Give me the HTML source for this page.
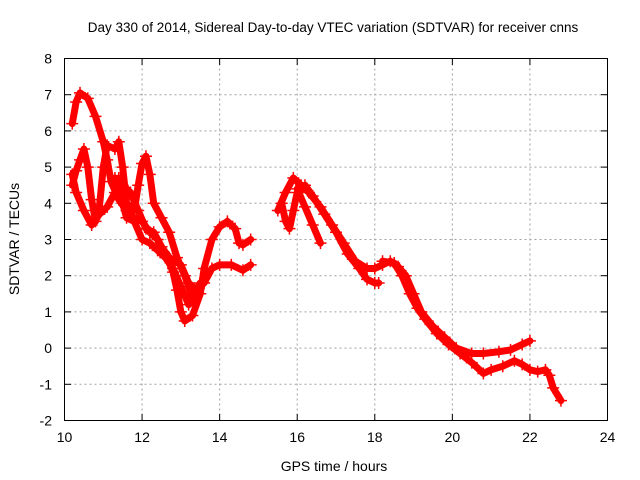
<!DOCTYPE html>
<html><head><meta charset="utf-8"><style>
body{margin:0;background:#fff}
svg{display:block;font-family:"Liberation Sans",sans-serif}
</style></head><body>
<svg id="c" width="640" height="480">
<text x="333" y="32" font-size="13.5" text-anchor="middle">Day 330 of 2014, Sidereal Day-to-day VTEC variation (SDTVAR) for receiver cnns</text>
<text x="334" y="471" font-size="14" text-anchor="middle">GPS time / hours</text>
<text x="19" y="239" font-size="14" text-anchor="middle" transform="rotate(-90 19 239)">SDTVAR / TECUs</text>
<g id="grid"></g><g id="ticks"></g><g id="series"></g>
<rect x="64.5" y="58.5" width="543" height="362" fill="none" stroke="#000"/>
</svg>
<script>
const xTicks=[10,12,14,16,18,20,22,24];
const yTicks=[-2,-1,0,1,2,3,4,5,6,7,8];
const traceA=[[10.2,6.2],[10.3,6.8],[10.4,7.05],[10.6,6.9],[10.8,6.4],[11.0,5.7],[11.1,5.2],[11.2,4.6],[11.4,4.1],[11.6,3.8],[11.8,3.6],[12.0,3.5],[12.2,3.2],[12.4,3.0],[12.6,2.6],[12.8,2.1],[12.9,1.6],[13.0,1.0],[13.1,0.75],[13.3,0.9],[13.5,1.5],[13.6,2.2],[13.8,3.0],[14.0,3.35],[14.2,3.5],[14.4,3.3],[14.5,2.9],[14.6,2.85],[14.8,3.0]];
const traceB=[[10.2,4.8],[10.3,4.3],[10.5,3.8],[10.7,3.4],[10.9,3.7],[11.1,3.9],[11.3,4.3],[11.4,4.7],[11.5,4.5],[11.7,4.3],[11.9,3.8],[12.1,3.3],[12.3,3.2],[12.5,2.8],[12.7,2.5],[13.0,2.3],[13.2,1.8],[13.4,1.6],[13.6,1.8],[13.8,2.2],[14.0,2.3],[14.3,2.3],[14.6,2.15],[14.8,2.3]];
const traceC=[[10.2,4.5],[10.3,4.9],[10.4,5.2],[10.5,5.5],[10.6,5.0],[10.7,4.1],[10.8,3.5],[10.9,3.9],[11.0,5.0],[11.1,5.6],[11.3,5.5],[11.4,5.7],[11.5,5.0],[11.6,4.0],[11.8,3.8],[11.9,4.5],[12.0,5.1],[12.1,5.3],[12.2,4.8],[12.3,4.0],[12.5,3.6],[12.7,3.2],[12.9,2.5],[13.1,2.0],[13.2,1.7],[13.3,1.4],[13.5,1.8]];
const traceD=[[11.3,4.7],[11.5,4.0],[11.6,3.6],[11.8,3.5],[12.0,3.0],[12.2,2.9],[12.4,2.7],[12.6,2.5],[12.8,2.2],[13.0,1.7],[13.2,1.2],[13.4,1.4]];
const traceE=[[15.5,3.8],[15.7,4.3],[15.9,4.7],[16.1,4.5],[16.3,4.3],[16.6,3.9],[16.9,3.4],[17.2,2.9],[17.5,2.4],[17.8,2.2],[18.0,2.2],[18.2,2.3],[18.4,2.4],[18.6,2.25],[18.8,2.0],[19.0,1.5],[19.2,1.0],[19.5,0.6],[19.8,0.3],[20.1,0.0],[20.5,-0.15],[20.8,-0.15],[21.2,-0.1],[21.5,-0.05],[21.8,0.1],[22.0,0.2]];
const traceF=[[15.6,4.0],[15.7,3.5],[15.8,3.3],[15.9,3.8],[16.0,4.3],[16.2,4.5],[16.4,4.2],[16.7,3.7],[17.0,3.2],[17.3,2.6],[17.6,2.2],[17.8,1.9],[18.0,1.8],[18.1,1.8]];
const traceG=[[16.0,4.4],[16.2,3.9],[16.4,3.4],[16.6,2.9]];
const traceH=[[18.2,2.4],[18.5,2.35],[18.7,2.0],[18.9,1.5],[19.1,1.1],[19.3,0.8],[19.6,0.4],[19.9,0.1],[20.2,-0.15],[20.5,-0.4],[20.8,-0.7],[21.0,-0.6],[21.3,-0.5],[21.6,-0.35],[21.8,-0.45],[22.0,-0.6],[22.2,-0.65],[22.4,-0.6],[22.5,-0.75],[22.6,-1.1],[22.8,-1.45]];
const traces=[traceA,traceB,traceC,traceD,traceE,traceF,traceG,traceH];
const NS="http://www.w3.org/2000/svg";
function X(v){return 64.5+(v-10)*(543/14);}
function Y(v){return 420.5-(v+2)*(362/10);}
function mk(tag,attrs,parent){const e=document.createElementNS(NS,tag);for(const k in attrs)e.setAttribute(k,attrs[k]);parent.appendChild(e);return e;}
const grid=document.getElementById('grid'),ticks=document.getElementById('ticks'),series=document.getElementById('series');
xTicks.forEach(t=>{const x=X(t);
 if(t>10&&t<24){const l=mk('line',{x1:x,x2:x,y1:58.5,y2:420.5,stroke:'#a0a0a0','stroke-dasharray':'2,3'},grid);
 
 }
 mk('line',{x1:x,x2:x,y1:420.5,y2:414,stroke:'#000'},ticks);
 mk('line',{x1:x,x2:x,y1:58.5,y2:65,stroke:'#000'},ticks);
 const tx=mk('text',{x:x,y:442,'font-size':14,'text-anchor':'middle'},ticks);tx.textContent=t;
 
 });
yTicks.forEach(t=>{const y=Y(t);
 if(t>-2&&t<8){const l=mk('line',{x1:64.5,x2:607.5,y1:y,y2:y,stroke:'#a0a0a0','stroke-dasharray':'2,3'},grid);
 
 }
 mk('line',{x1:64.5,x2:71,y1:y,y2:y,stroke:'#000'},ticks);
 mk('line',{x1:607.5,x2:601,y1:y,y2:y,stroke:'#000'},ticks);
 const tx=mk('text',{x:52,y:y+5,'font-size':14,'text-anchor':'end'},ticks);tx.textContent=t;
 
 });
traces.forEach((tr,i)=>{
 const g=mk('g',{},series);
 
 
 mk('polyline',{points:tr.map(p=>X(p[0])+','+Y(p[1])).join(' '),fill:'none',stroke:'#f00','stroke-width':7,'stroke-linejoin':'round','stroke-linecap':'round'},g);
 tr.forEach(p=>{const x=X(p[0]),y=Y(p[1]);
  const m=mk('path',{d:`M${x-6},${y}H${x+6}M${x},${y-6}V${y+6}`,stroke:'#f00','stroke-width':1.5},g);
  
  });
});
</script>
</body></html>
